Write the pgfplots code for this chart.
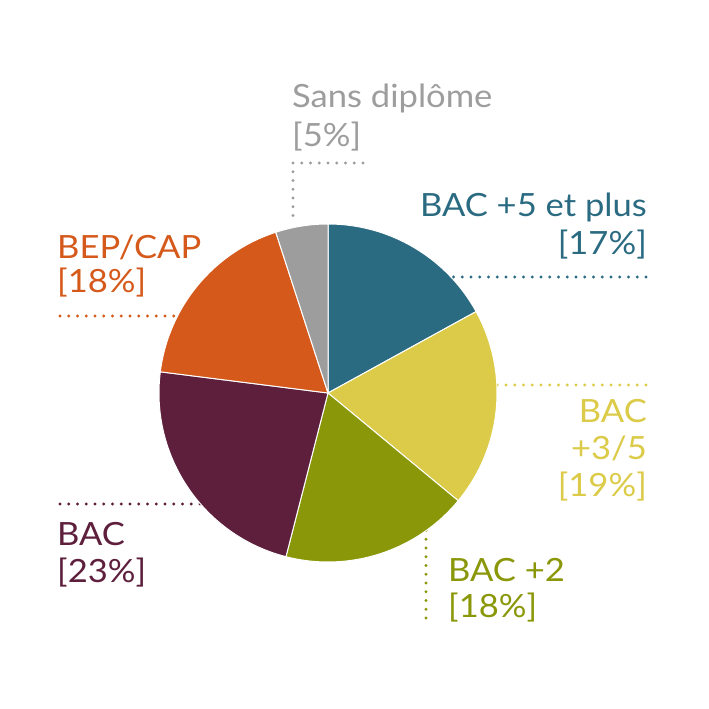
\documentclass[border=0pt]{standalone}
\usepackage{pgfplots}
\usepackage{pgfplotstable}
\pgfplotsset{compat=1.18}
\usepackage{fontspec}
\setmainfont{Lato}[FakeStretch=1.08]

\definecolor{cbacfive}{HTML}{2B6B82}
\definecolor{cbacthree}{HTML}{DBCB48}
\definecolor{cbactwo}{HTML}{8A9708}
\definecolor{cbac}{HTML}{5D1F3C}
\definecolor{cbep}{HTML}{D5591A}
\definecolor{csans}{HTML}{9D9D9D}

% shares in percent, clockwise from 12 o'clock
\pgfplotstableread{
share colour
17 cbacfive
19 cbacthree
18 cbactwo
23 cbac
18 cbep
5  csans
}\piedata

\tikzset{
  leader/.style={line width=3.2pt, line cap=round, dash pattern=on 0pt off 8.75pt},
  lbl/.style={inner sep=0pt, font=\fontsize{32}{37}\selectfont},
}

\begin{document}
\begin{tikzpicture}
\begin{axis}[
  x=1pt, y=1pt,
  xmin=0, xmax=709, ymin=0, ymax=709,
  scale only axis,
  hide axis,
  clip=false,
]
\path (axis cs:0,0) rectangle (axis cs:709,709);

% leader lines (under the pie), drawn from the outer end inwards
\draw[leader, csans] (axis cs:363,546) -- (axis cs:293,546) -- (axis cs:293,487);
\draw[leader, cbacfive] (axis cs:646,432) -- (axis cs:440,432);
\draw[leader, cbacthree] (axis cs:646,324) -- (axis cs:480,324);
\draw[leader, cbactwo] (axis cs:426,91) -- (axis cs:426,230);
\draw[leader, cbac] (axis cs:60,205) -- (axis cs:210,205);
\draw[leader, cbep] (axis cs:60,393) -- (axis cs:180,393);

% slices
\def\acc{90}
\pgfplotsforeachungrouped \i in {0,...,5}{%
  \pgfplotstablegetelem{\i}{share}\of\piedata \let\s\pgfplotsretval
  \pgfplotstablegetelem{\i}{colour}\of\piedata \let\c\pgfplotsretval
  \pgfmathsetmacro\stop{\acc-3.6*\s}%
  \edef\temp{\noexpand\fill[\c, draw=white, line width=1pt, line join=round]
    (axis cs:328,316) -- ++(\acc:169pt)
    arc[start angle=\acc, end angle=\stop, radius=169pt] -- cycle;}%
  \temp
  \global\let\acc\stop
}

% labels
\node[lbl, csans, anchor=base west] at (axis cs:292,601) {Sans diplôme};
\node[lbl, csans, anchor=base west] at (axis cs:292,562) {[5\%]};

\node[lbl, cbacfive, anchor=base east] at (axis cs:647,492) {BAC +5 et plus};
\node[lbl, cbacfive, anchor=base east] at (axis cs:647,454) {[17\%]};

\node[lbl, cbacthree, anchor=base east] at (axis cs:647,286) {BAC};
\node[lbl, cbacthree, anchor=base east] at (axis cs:647,249) {+3/5};
\node[lbl, cbacthree, anchor=base east] at (axis cs:647,212) {[19\%]};

\node[lbl, cbactwo, anchor=base west] at (axis cs:448,127) {BAC +2};
\node[lbl, cbactwo, anchor=base west] at (axis cs:448,91) {[18\%]};

\node[lbl, cbac, anchor=base west] at (axis cs:57,163) {BAC};
\node[lbl, cbac, anchor=base west] at (axis cs:57,126) {[23\%]};

\node[lbl, cbep, anchor=base west] at (axis cs:57,450) {BEP/CAP};
\node[lbl, cbep, anchor=base west] at (axis cs:57,416) {[18\%]};
\end{axis}
\end{tikzpicture}
\end{document}
